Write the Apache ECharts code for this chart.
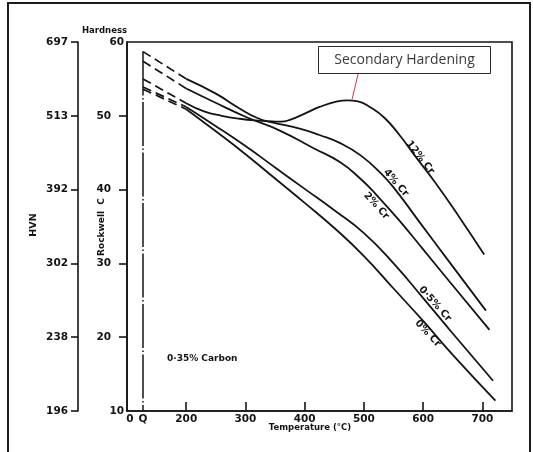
<!DOCTYPE html>
<html>
<head>
<meta charset="utf-8">
<script src="https://cdn.jsdelivr.net/npm/echarts@6/dist/echarts.min.js"></script>
<style>
html,body{margin:0;padding:0;background:#fff;}
#c{width:533px;height:452px;}
</style>
</head>
<body>
<div id="c"></div>
<script>
// ---------------- data ----------------
const seriesNames = ['12% Cr', '4% Cr', '2% Cr', '0·5% Cr', '0% Cr'];
const quenchTemp = 127;                       // "Q" (as-quenched) position on the temperature axis
const quenchedHard = [55.0, 58.7, 57.4, 53.9, 53.6];

const cr12Temp = [200, 230, 260, 290, 320, 345, 360, 375, 400, 425, 455, 472, 490, 510, 535, 560, 585, 620, 660, 703];
const cr12Hard = [51.7, 50.6, 50.0, 49.6, 49.35, 49.25, 49.2, 49.45, 50.3, 51.2, 51.95, 52.1, 51.95, 51.2, 49.7, 47.4, 44.7, 41.0, 36.4, 31.2];

const cr4Temp = [200, 250, 290, 320, 345, 390, 425, 460, 495, 530, 554, 592, 646, 706];
const cr4Hard = [55.0, 53.0, 51.0, 49.7, 49.1, 48.3, 47.4, 46.3, 44.6, 42.1, 39.9, 35.8, 30.0, 23.6];

const cr2Temp = [200, 246, 302, 358, 415, 460, 495, 521, 561, 600, 650, 712];
const cr2Hard = [53.7, 51.9, 49.8, 48.0, 45.6, 43.7, 41.4, 39.3, 35.7, 31.9, 27.0, 21.0];

const cr05Temp = [200, 250, 300, 350, 400, 450, 500, 550, 600, 650, 718];
const cr05Hard = [51.2, 48.6, 45.9, 43.0, 40.1, 37.2, 34.1, 30.0, 25.3, 20.5, 14.1];

const cr0Temp = [200, 250, 300, 350, 400, 450, 500, 550, 600, 650, 722];
const cr0Hard = [50.9, 47.9, 44.8, 41.5, 38.2, 34.8, 31.0, 26.6, 22.2, 17.6, 11.4];

const rockwellTicks = [10, 20, 30, 40, 50, 60];
const hvnLabels = ['196', '238', '302', '392', '513', '697'];
const xTickValues = [105, 127, 200, 300, 400, 500, 600, 700];
const xTickLabels = ['0', 'Q', '200', '300', '400', '500', '600', '700'];

// ---------------- chart ----------------
const INK = '#141414';
const FONT = 'DejaVu Sans';
const chart = echarts.init(document.getElementById('c'), null, {renderer: 'canvas'});

const curves = [[cr12Temp, cr12Hard], [cr4Temp, cr4Hard], [cr2Temp, cr2Hard], [cr05Temp, cr05Hard], [cr0Temp, cr0Hard]];
const series = [];
curves.forEach(([t, h], i) => {
  series.push({
    name: seriesNames[i] + ' (quench)', type: 'line', showSymbol: false, silent: true,
    data: [[quenchTemp, quenchedHard[i]], [t[0], h[0]]],
    lineStyle: {color: INK, width: 1.7, type: [9, 5]}
  });
  series.push({
    name: seriesNames[i], type: 'line', showSymbol: false, silent: true,
    smooth: 0.5,
    data: t.map((v, j) => [v, h[j]]),
    lineStyle: {color: INK, width: 1.8}
  });
});
series.push({
  name: 'Q', type: 'line', showSymbol: false, silent: true,
  data: [[quenchTemp, Math.max(...quenchedHard)], [quenchTemp, rockwellTicks[0]]],
  lineStyle: {color: INK, width: 1.5, type: [44, 2.5, 1.5, 2.5]}
});

const labelFont = {fontFamily: FONT, fontWeight: 'bold', fontSize: 10.5, color: INK};

chart.setOption({
  animation: false,
  backgroundColor: '#fff',
  grid: {left: 127, right: 21, top: 42, bottom: 41, containLabel: false, outerBoundsMode: 'none',
         show: true, borderColor: INK, borderWidth: 1.6, backgroundColor: 'transparent'},
  xAxis: {
    type: 'value', min: 100, max: 750,
    axisLine: {show: true, lineStyle: {color: INK, width: 1.6}},
    axisTick: {show: true, inside: true, length: 9, customValues: xTickValues.slice(2), lineStyle: {color: INK, width: 1.6}},
    axisLabel: Object.assign({customValues: xTickValues, margin: 3,
      formatter: v => xTickLabels[xTickValues.indexOf(v)]}, labelFont),
    splitLine: {show: false}
  },
  yAxis: [
    {
      type: 'value', min: 10, max: 60, interval: 10, position: 'left',
      axisLine: {show: true, onZero: false, lineStyle: {color: INK, width: 1.6}},
      axisTick: {show: true, length: 8, customValues: [20, 30, 40, 50], lineStyle: {color: INK, width: 1.6}},
      axisLabel: Object.assign({customValues: [20, 30, 40, 50], margin: 16}, labelFont),
      splitLine: {show: false}
    },
    {
      type: 'value', min: 10, max: 60, interval: 10, position: 'left', offset: 0,
      axisLine: {show: false}, axisTick: {show: false},
      axisLabel: Object.assign({customValues: [rockwellTicks[0], rockwellTicks[rockwellTicks.length - 1]], margin: 3}, labelFont),
      splitLine: {show: false}
    },
    {
      type: 'value', min: 10, max: 60, interval: 10, position: 'left', offset: 49,
      axisLine: {show: true, onZero: false, lineStyle: {color: INK, width: 1.6}},
      axisTick: {show: true, length: 7, lineStyle: {color: INK, width: 1.6}},
      axisLabel: Object.assign({margin: 10,
        formatter: v => hvnLabels[rockwellTicks.indexOf(v)]}, labelFont),
      splitLine: {show: false}
    }
  ],
  series: series
});

// ---------------- annotations ----------------
const px = (t, h) => chart.convertToPixel({xAxisIndex: 0, yAxisIndex: 0}, [t, h]);
const curveLabelSpots = [[595, 44.35, 52], [554, 40.9, 49], [521, 37.8, 48], [620, 24.5, 48], [608, 20.5, 47]];
const graphics = [];
curveLabelSpots.forEach((s, i) => {
  const p = px(s[0], s[1]);
  graphics.push({
    type: 'text', x: p[0], y: p[1], rotation: -s[2] * Math.PI / 180,
    style: {text: seriesNames[i], fill: INK, font: 'bold 10px "DejaVu Sans"', textAlign: 'center', textVerticalAlign: 'middle'}
  });
});
// pointer from annotation box to secondary-hardening peak
const peakIdx = cr12Hard.indexOf(Math.max(...cr12Hard));
const peakPx = px(cr12Temp[peakIdx] + 8, cr12Hard[peakIdx]);
graphics.push(
  {type: 'rect', shape: {x: 8, y: 3, width: 522, height: 470}, style: {fill: 'none', stroke: '#1c1c1c', lineWidth: 2}},
  {type: 'line', shape: {x1: peakPx[0] + 6, y1: 74, x2: peakPx[0], y2: peakPx[1] - 1}, style: {stroke: '#d8364f', lineWidth: 1}},
  {type: 'rect', shape: {x: 318.5, y: 46.5, width: 172, height: 27}, style: {fill: '#fff', stroke: '#2a2a2a', lineWidth: 1}},
  {type: 'text', x: 404.5, y: 60.5, style: {text: 'Secondary Hardening', fill: '#3a3a3a', font: '14px "Open Sans"', textAlign: 'center', textVerticalAlign: 'middle'}},
  {type: 'text', x: 104.5, y: 31, style: {text: 'Hardness', fill: INK, font: 'bold 8.5px "DejaVu Sans"', textAlign: 'center', textVerticalAlign: 'middle'}},
  {type: 'text', x: 34, y: 225, rotation: Math.PI / 2, style: {text: 'HVN', fill: INK, font: 'bold 9.5px "DejaVu Sans"', textAlign: 'center', textVerticalAlign: 'middle'}},
  {type: 'text', x: 102, y: 227, rotation: Math.PI / 2, style: {text: 'Rockwell  C', fill: INK, font: 'bold 9px "DejaVu Sans"', textAlign: 'center', textVerticalAlign: 'middle'}},
  {type: 'text', x: 310, y: 428, style: {text: 'Temperature (°C)', fill: INK, font: 'bold 8.5px "DejaVu Sans"', textAlign: 'center', textVerticalAlign: 'middle'}},
  {type: 'text', x: 167, y: 359, style: {text: '0·35% Carbon', fill: INK, font: 'bold 9px "DejaVu Sans"', textAlign: 'left', textVerticalAlign: 'middle'}}
);
chart.setOption({graphic: graphics});
</script>
</body>
</html>
